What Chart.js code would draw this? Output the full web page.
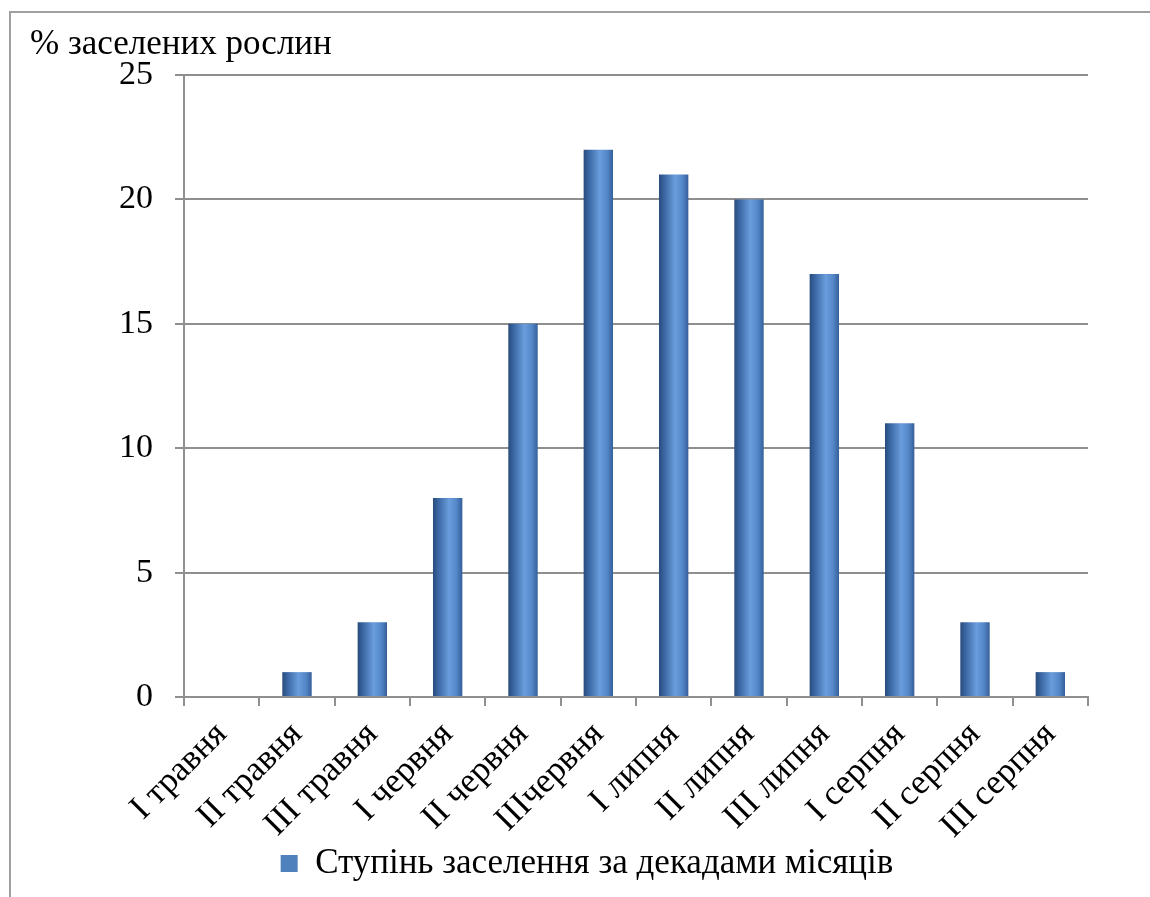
<!DOCTYPE html>
<html>
<head>
<meta charset="utf-8">
<script src="https://cdn.jsdelivr.net/npm/chart.js@4"></script>
<style>
  html, body { margin: 0; padding: 0; background: #fff; }
  body { width: 1150px; height: 897px; position: relative; overflow: hidden; }
  #frame { position: absolute; left: 9px; top: 11px; width: 1300px; height: 1000px;
           border-left: 2px solid #a0a0a0; border-top: 2px solid #a0a0a0; box-sizing: border-box; }
  #wrap { position: absolute; left: 0; top: 0; width: 1150px; height: 897px; }
</style>
</head>
<body>
<div id="frame"></div>
<div id="wrap"><canvas id="chart" width="1150" height="897"></canvas></div>
<script>
// Decades of the months (May – August)
const categories = ['I травня', 'II травня', 'III травня', 'I червня', 'II червня', 'IIIчервня',
                    'I липня', 'II липня', 'III липня', 'I серпня', 'II серпня', 'III серпня'];
// Share of infested plants, %
const infested = [0, 1, 3, 8, 15, 22, 21, 20, 17, 11, 3, 1];
const seriesName = 'Ступінь заселення за декадами місяців';
const axisTitle = '% заселених рослин';
const yMin = 0, yMax = 25, yStep = 5;

const SERIF = "'Liberation Serif', 'Times New Roman', 'DejaVu Serif', serif";
const GRID = '#8f8f8f';
const BAR_PCT = 0.39;

Chart.defaults.font.family = SERIF;
Chart.defaults.color = '#000';

// Cylinder-like horizontal shading for every bar, built from the x scale
function barFill(ctx) {
  const chart = ctx.chart;
  const xs = chart.scales && chart.scales.x;
  if (!xs || ctx.dataIndex === undefined || !chart.chartArea) return '#4f81bd';
  const cx = xs.getPixelForValue(ctx.dataIndex);
  const w = (xs.width / categories.length) * BAR_PCT;
  const g = chart.ctx.createLinearGradient(cx - w / 2, 0, cx + w / 2, 0);
  g.addColorStop(0, '#294b7c');
  g.addColorStop(0.18, '#3a67a3');
  g.addColorStop(0.55, '#6a9ddc');
  g.addColorStop(0.8, '#5487c8');
  g.addColorStop(1, '#355f99');
  return g;
}

// Nudge the legend row a little to the right of the canvas centre
const legendShift = {
  id: 'legendShift',
  afterLayout(chart) {
    const lg = chart.legend;
    if (lg) { lg.left += 28; lg.right += 28; }
  }
};

new Chart(document.getElementById('chart'), {
  type: 'bar',
  data: {
    labels: categories,
    datasets: [{
      label: seriesName,
      data: infested,
      backgroundColor: barFill,
      borderWidth: 0,
      barPercentage: BAR_PCT,
      categoryPercentage: 1
    }]
  },
  plugins: [legendShift],
  options: {
    responsive: false,
    animation: false,
    devicePixelRatio: 1,
    layout: { padding: { left: 30, right: 62, top: 20, bottom: 6 } },
    plugins: {
      tooltip: { enabled: false },
      title: {
        display: true,
        text: axisTitle,
        align: 'start',
        color: '#000',
        font: { family: SERIF, size: 35, weight: 'normal', lineHeight: 1.2 },
        padding: { top: 4, bottom: 9 }
      },
      legend: {
        position: 'bottom',
        labels: {
          color: '#000',
          font: { family: SERIF, size: 35, lineHeight: 1.2 },
          boxWidth: 17,
          boxHeight: 17,
          padding: 8,
          generateLabels: () => [{
            text: seriesName,
            fillStyle: '#4f81bd',
            strokeStyle: '#4f81bd',
            lineWidth: 0,
            datasetIndex: 0
          }]
        }
      }
    },
    scales: {
      x: {
        grid: {
          offset: true,
          drawOnChartArea: false,
          drawTicks: true,
          tickLength: 9,
          color: GRID,
          lineWidth: 2
        },
        border: { color: GRID, width: 2 },
        ticks: {
          color: '#000',
          font: { family: SERIF, size: 35 },
          minRotation: 45,
          maxRotation: 45,
          autoSkip: false,
          padding: 8
        },
        afterFit: (s) => { s.height = 141; }
      },
      y: {
        min: yMin,
        max: yMax,
        grid: { color: GRID, lineWidth: 2, tickLength: 9 },
        border: { color: GRID, width: 2 },
        ticks: {
          stepSize: yStep,
          color: '#000',
          font: { family: SERIF, size: 34 },
          padding: 22
        },
        afterFit: (s) => { s.width = 154; }
      }
    }
  }
});
</script>
</body>
</html>
